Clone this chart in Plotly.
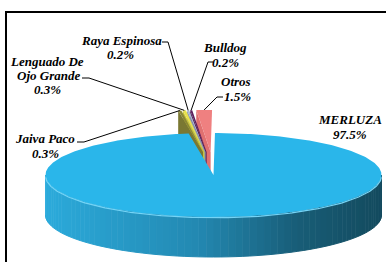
import numpy as np
import plotly.graph_objects as go

# ---------------- data ----------------
species = ["MERLUZA", "Jaiva Paco", "Lenguado De Ojo Grande", "Raya Espinosa", "Bulldog", "Otros"]
label_lines = [["MERLUZA"], ["Jaiva Paco"], ["Lenguado De", "Ojo Grande"], ["Raya Espinosa"], ["Bulldog"], ["Otros"]]
shares = [97.5, 0.3, 0.3, 0.2, 0.2, 1.5]
top_colors = ["#2AB6EA", "#8A8836", "#E8E24C", "#A9B6D2", "#5C1F5E", "#EF8080"]
side_colors = ["#2389B2", "#7A7832", "#C8C23A", "#8E9AB6", "#48164A", "#E07070"]
exploded = [False, True, True, True, True, True]

# ---------------- layout / geometry (pixels) ----------------
W, H = 386, 262
cx, cy, a, b, depth = 213.5, 175, 168, 42, 40
start_angle = 89.5
ex, ey = 0.45, 0.55
FONT = "Liberation Serif"

# label placement: list of (x, y) per text line, leader anchor points
label_pos = {
    "MERLUZA": [(350, 119), (350, 134)],
    "Jaiva Paco": [(45, 138), (45, 153)],
    "Lenguado De Ojo Grande": [(47, 61), (48, 75), (47, 89)],
    "Raya Espinosa": [(121, 40), (120, 54)],
    "Bulldog": [(225, 47), (225, 62)],
    "Otros": [(236, 81), (237, 96)],
}
leader_anchor = {
    "Jaiva Paco": [(77, 142), (84, 142)],
    "Lenguado De Ojo Grande": [(82, 78), (89, 78)],
    "Raya Espinosa": [(162, 42), (168, 42)],
    "Bulldog": [(213, 62), (208, 62)],
    "Otros": [(223, 97), (217, 97)],
}

fig = go.Figure()


def ex_xy(th_deg, dx=0.0, dy=0.0):
    t = np.radians(th_deg)
    return cx + a * np.cos(t) + dx, cy - b * np.sin(t) + dy


def poly(xs, ys, color, lw=0.0, lcolor=None):
    fig.add_trace(go.Scatter(x=list(xs), y=list(ys), mode="lines", fill="toself",
                             fillcolor=color, line=dict(width=lw, color=lcolor or color),
                             hoverinfo="skip", showlegend=False))


def hex2rgb(h):
    h = h.lstrip("#")
    return [int(h[i:i + 2], 16) for i in (0, 2, 4)]


grad_stops = [(0.0, "#2BAADB"), (0.45, "#2389B2"), (0.75, "#185D77"), (1.0, "#134A5E")]


def grad(f):
    for (f0, c0), (f1, c1) in zip(grad_stops[:-1], grad_stops[1:]):
        if f <= f1:
            r0, r1 = hex2rgb(c0), hex2rgb(c1)
            u = (f - f0) / (f1 - f0)
            return "rgb(%d,%d,%d)" % tuple(round(p + (q - p) * u) for p, q in zip(r0, r1))
    return grad_stops[-1][1]


# angles of slices (clockwise from start angle)
total = sum(shares)
cum = np.concatenate([[0], np.cumsum(shares)])
t_start = [start_angle - 360 * cum[i] / total for i in range(len(shares))]
t_end = [start_angle - 360 * cum[i + 1] / total for i in range(len(shares))]
t_mid = [(s + e) / 2 for s, e in zip(t_start, t_end)]
shift = []
for i in range(len(shares)):
    if exploded[i]:
        tm = np.radians(t_mid[i])
        shift.append((ex * a * np.cos(tm), -ey * b * np.sin(tm)))
    else:
        shift.append((0.0, 0.0))

# side wall of the big slice (front half), gradient strips
n = 72
edges = np.linspace(-180, 0, n + 1)
for k in range(n):
    th = np.linspace(edges[k], edges[k + 1], 4)
    xt, yt = ex_xy(th)
    xs = np.concatenate([xt, xt[::-1]])
    ys = np.concatenate([yt, yt[::-1] + depth])
    f = (xt.mean() - (cx - a)) / (2 * a)
    c = grad(f)
    poly(xs, ys, c, lw=1, lcolor=c)

# small exploded slices, from right to left
for i in range(len(shares) - 1, 0, -1):
    dx, dy = shift[i]
    ax_, ay_ = cx + dx, cy + dy
    rx, ry = ex_xy(t_start[i], dx, dy)
    poly([ax_, rx, rx, ax_], [ay_, ry, ry + depth, ay_ + depth], side_colors[i])
    th = np.linspace(t_start[i], t_end[i], 12)
    xr, yr = ex_xy(th, dx, dy)
    poly(np.concatenate([[ax_], xr]), np.concatenate([[ay_], yr]), top_colors[i])

# top face of the big slice
th = np.linspace(t_start[0], t_end[0], 400)
xr, yr = ex_xy(th)
poly(np.concatenate([[cx], xr]), np.concatenate([[cy], yr]), top_colors[0])

# highlight along the front rim
th = np.linspace(-178, -2, 200)
xh, yh = ex_xy(th)
fig.add_trace(go.Scatter(x=xh, y=yh + 0.8, mode="lines", line=dict(color="#74D4F6", width=1.2),
                         hoverinfo="skip", showlegend=False))

# leader lines
for i, name in enumerate(species):
    if name not in leader_anchor:
        continue
    dx, dy = shift[i]
    mx, my = ex_xy(t_mid[i], dx, dy)
    pts = leader_anchor[name] + [(mx, my)]
    fig.add_trace(go.Scatter(x=[p[0] for p in pts], y=[p[1] for p in pts], mode="lines",
                             line=dict(color="black", width=1), hoverinfo="skip", showlegend=False))

# labels
annotations = []
for i, name in enumerate(species):
    texts = label_lines[i] + ["%.1f%%" % shares[i]]
    for (x, y), t in zip(label_pos[name], texts):
        annotations.append(dict(x=x, y=y, xref="x", yref="y", text="<b><i>%s</i></b>" % t,
                                showarrow=False, xanchor="center", yanchor="middle",
                                font=dict(family=FONT, size=13, color="black")))

fig.update_layout(
    width=W, height=H, margin=dict(l=0, r=0, t=0, b=0),
    paper_bgcolor="white", plot_bgcolor="white", showlegend=False,
    font=dict(family=FONT),
    xaxis=dict(range=[0, W], visible=False, fixedrange=True),
    yaxis=dict(range=[H, 0], visible=False, fixedrange=True),
    annotations=annotations,
    shapes=[dict(type="rect", xref="x", yref="y", x0=6, y0=12, x1=W + 40, y1=H + 40,
                 line=dict(color="black", width=2), fillcolor="rgba(0,0,0,0)", layer="below")],
)

fig.write_html("out.html", config={"displayModeBar": False, "staticPlot": True},
               post_script="document.body.style.margin='0px';")
